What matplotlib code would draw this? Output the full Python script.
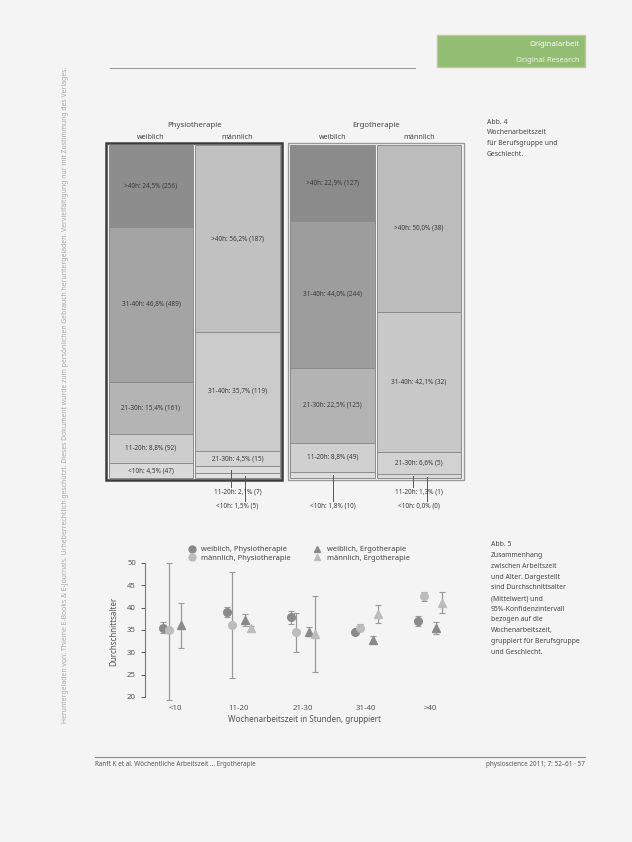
import matplotlib
matplotlib.use('Agg')
import matplotlib.pyplot as plt
from matplotlib.patches import Rectangle
from matplotlib.lines import Line2D
import numpy as np

plt.rcParams['font.family'] = ['Noto Sans', 'DejaVu Sans']

# ---------------- data: mosaic (Abb. 4) ----------------
groups = ['Physiotherapie', 'Ergotherapie']
sexes = ['weiblich', 'männlich']
hours = ['<10h', '11-20h', '21-30h', '31-40h', '>40h']
counts_physio_w = [47, 92, 161, 489, 256]
counts_physio_m = [5, 7, 15, 119, 187]
counts_ergo_w = [10, 49, 125, 244, 127]
counts_ergo_m = [0, 1, 5, 32, 38]

# ---------------- data: age chart (Abb. 5) ----------------
cats = ['<10', '11-20', '21-30', '31-40', '>40']
wP_mean = [35.5, 39.0, 37.8, 34.6, 37.1]
wP_lo = [34.4, 37.8, 36.4, 34.0, 36.0]
wP_hi = [36.7, 40.2, 39.2, 35.3, 38.2]
mP_mean = [35.0, 36.2, 34.6, 35.5, 42.5]
mP_lo = [19.3, 24.3, 30.1, 34.8, 41.5]
mP_hi = [50.0, 48.0, 38.9, 36.3, 43.6]
wE_mean = [36.2, 37.3, 34.6, 32.8, 35.5]
wE_lo = [31.0, 36.0, 33.6, 32.1, 34.2]
wE_hi = [41.0, 38.6, 35.6, 33.6, 36.8]
mE_mean = [np.nan, 35.5, 34.2, 38.6, 41.1]
mE_lo = [np.nan, 35.0, 25.6, 36.6, 38.9]
mE_hi = [np.nan, 36.0, 42.7, 40.6, 43.4]

W, H = 632, 842
fig = plt.figure(figsize=(W / 100, H / 100), dpi=100)
fig.patch.set_facecolor('#f4f4f4')


def ax_px(x0, y0, x1, y1):
    return fig.add_axes([x0 / W, 1 - y1 / H, (x1 - x0) / W, (y1 - y0) / H])


def ftext(x, y, s, **kw):
    fig.text(x / W, 1 - y / H, s, **kw)


# ---------------- page decoration ----------------
page = ax_px(0, 0, W, H)
page.set_xlim(0, W)
page.set_ylim(H, 0)
page.axis('off')
page.patch.set_alpha(0)
page.add_patch(Rectangle((437, 35), 148, 32, facecolor='#93bd72', edgecolor='#c9c29a', lw=1))
page.plot([110, 415], [68, 68], color='#9a9a9a', lw=0.8)
page.plot([95, 585], [757, 757], color='#8a8a8a', lw=0.8)
ftext(580, 44, 'Originalarbeit', color='white', fontsize=5.5, ha='right', va='center', weight='bold')
ftext(580, 60, 'Original Research', color='#eef5e6', fontsize=5.5, ha='right', va='center')
ftext(95, 764, 'Ranft K et al. Wöchentliche Arbeitszeit … Ergotherapie', fontsize=4.6, color='#555555', va='center')
ftext(585, 764, 'physioscience 2011; 7: 52–61 · 57', fontsize=4.6, color='#555555', va='center', ha='right')
ftext(66, 395, 'Heruntergeladen von: Thieme E-Books & E-Journals. Urheberrechtlich geschützt. '
      'Dieses Dokument wurde zum persönlichen Gebrauch heruntergeladen. Vervielfältigung nur mit Zustimmung des Verlages.',
      fontsize=4.9, color='#a8a8a8', rotation=90, ha='center', va='center')

cap4 = ['Abb. 4', 'Wochenarbeitszeit', 'für Berufsgruppe und', 'Geschlecht.']
for i, s in enumerate(cap4):
    ftext(487, 122 + i * 10.8, s, fontsize=4.9, color='#444444', va='center',
          weight='bold' if i == 0 else 'normal')
cap5 = ['Abb. 5', 'Zusammenhang', 'zwischen Arbeitszeit', 'und Alter. Dargestellt', 'sind Durchschnittsalter',
        '(Mittelwert) und', '95%-Konfidenzintervall', 'bezogen auf die', 'Wochenarbeitszeit,',
        'gruppiert für Berufsgruppe', 'und Geschlecht.']
for i, s in enumerate(cap5):
    ftext(491, 545 + i * 10.7, s, fontsize=4.9, color='#444444', va='center',
          weight='bold' if i == 0 else 'normal')

# ---------------- mosaic chart ----------------
ax = ax_px(106, 145, 464, 511.3)
ax.set_xlim(-0.52, 3.62)
ax.set_ylim(-10, 100)
ax.axis('off')
ax.patch.set_alpha(0)

cols = [counts_physio_w, counts_physio_m, counts_ergo_w, counts_ergo_m]
xpos = [0, 1, 2.1, 3.1]
colors = [
    ['#dadada', '#cdcdcd', '#b4b4b4', '#a4a4a4', '#8d8d8d'],
    ['#e2e2e2', '#dcdcdc', '#d4d4d4', '#cbcbcb', '#c1c1c1'],
    ['#dcdcdc', '#d0d0d0', '#b3b3b3', '#9d9d9d', '#8b8b8b'],
    ['#e2e2e2', '#dadada', '#d2d2d2', '#c8c8c8', '#bcbcbc'],
]
for ci, (cnt, xp) in enumerate(zip(cols, xpos)):
    cnt = np.array(cnt, dtype=float)
    pct = cnt / cnt.sum() * 100
    bottom = 0.0
    for k in range(len(hours)):
        ax.bar(xp, pct[k], bottom=bottom, width=0.98, color=colors[ci][k],
               edgecolor='#8c8c8c', linewidth=0.7)
        lab = f'{hours[k]}: {pct[k]:.1f}% ({int(cnt[k])})'.replace('.', ',')
        mid = bottom + pct[k] / 2
        if pct[k] >= 4:
            ax.text(xp, mid, lab, ha='center', va='center', fontsize=4.6, color='#3a3a3a')
        else:
            row = 1 if k == 1 else 2
            ly = -4.2 * row
            nout = sum(1 for v in pct[:2] if v < 4)
            off = 0.0 if nout == 1 else (-0.07 if k == 1 else 0.09)
            ax.plot([xp + off, xp + off], [max(mid, 0.3), ly + 1.6], color='#555555', lw=0.7, clip_on=False)
            ax.text(xp, ly, lab, ha='center', va='center', fontsize=4.6, color='#3a3a3a', clip_on=False)
        bottom += pct[k]

ax.add_patch(Rectangle((-0.52, -0.6), 2.04, 101.2, fill=False, edgecolor='#3c3c3c', lw=1.8, clip_on=False))
ax.add_patch(Rectangle((1.58, -0.6), 2.04, 101.2, fill=False, edgecolor='#9a9a9a', lw=1.0, clip_on=False))
for gi, g in enumerate(groups):
    cx = (xpos[2 * gi] + xpos[2 * gi + 1]) / 2
    ax.text(cx, 106, g, ha='center', va='center', fontsize=5.6, color='#444444', clip_on=False)
    for si, s in enumerate(sexes):
        ax.text(xpos[2 * gi + si], 102.4, s, ha='center', va='center', fontsize=5.2,
                color='#444444', clip_on=False)

# ---------------- age chart ----------------
ax2 = ax_px(145, 558.5, 465, 703.7)
ax2.set_xlim(-0.47, 4.55)
ax2.set_ylim(18.5, 51)
ax2.patch.set_alpha(0)
for sp in ['top', 'right', 'bottom']:
    ax2.spines[sp].set_visible(False)
ax2.spines['left'].set_bounds(20, 50)
ax2.spines['left'].set_color('#777777')
ax2.spines['left'].set_linewidth(0.8)
ax2.set_yticks([20, 25, 30, 35, 40, 45, 50])
ax2.tick_params(axis='y', labelsize=5.6, colors='#555555', length=3, width=0.7)
ax2.set_xticks(range(len(cats)))
ax2.set_xticklabels(cats)
ax2.tick_params(axis='x', labelsize=5.6, colors='#555555', length=0, pad=1)
ax2.set_ylabel('Durchschnittsalter', fontsize=5.8, color='#555555', labelpad=6)
ax2.set_xlabel('Wochenarbeitszeit in Stunden, gruppiert', fontsize=5.8, color='#555555', labelpad=2)

dark, light = '#8a8a8a', '#bcbcbc'
x = np.arange(len(cats))
series = [
    (wP_mean, wP_lo, wP_hi, 'o', dark, -0.18, 'weiblich, Physiotherapie'),
    (mP_mean, mP_lo, mP_hi, 'o', light, -0.10, 'männlich, Physiotherapie'),
    (wE_mean, wE_lo, wE_hi, '^', dark, 0.10, 'weiblich, Ergotherapie'),
    (mE_mean, mE_lo, mE_hi, '^', light, 0.19, 'männlich, Ergotherapie'),
]
handles = []
for m, lo, hi, mk, c, off, lab in series:
    m = np.array(m)
    lo = np.array(lo)
    hi = np.array(hi)
    ax2.errorbar(x + off, m, yerr=[m - lo, hi - m], fmt=mk, color=c, ecolor='#9a9a9a',
                 elinewidth=0.9, capsize=2.5, capthick=0.8, ms=5.5, mec=c, clip_on=False)
    handles.append(Line2D([], [], marker=mk, ls='none', color=c, ms=5, label=lab))

fig.legend(handles=handles, ncol=2, loc='center', bbox_to_anchor=(297 / W, 1 - 554 / H),
           frameon=False, fontsize=5.4, handletextpad=0.3, columnspacing=2.5, labelspacing=0.2,
           labelcolor='#444444')

fig.savefig('out.png', dpi=100, facecolor=fig.get_facecolor())
